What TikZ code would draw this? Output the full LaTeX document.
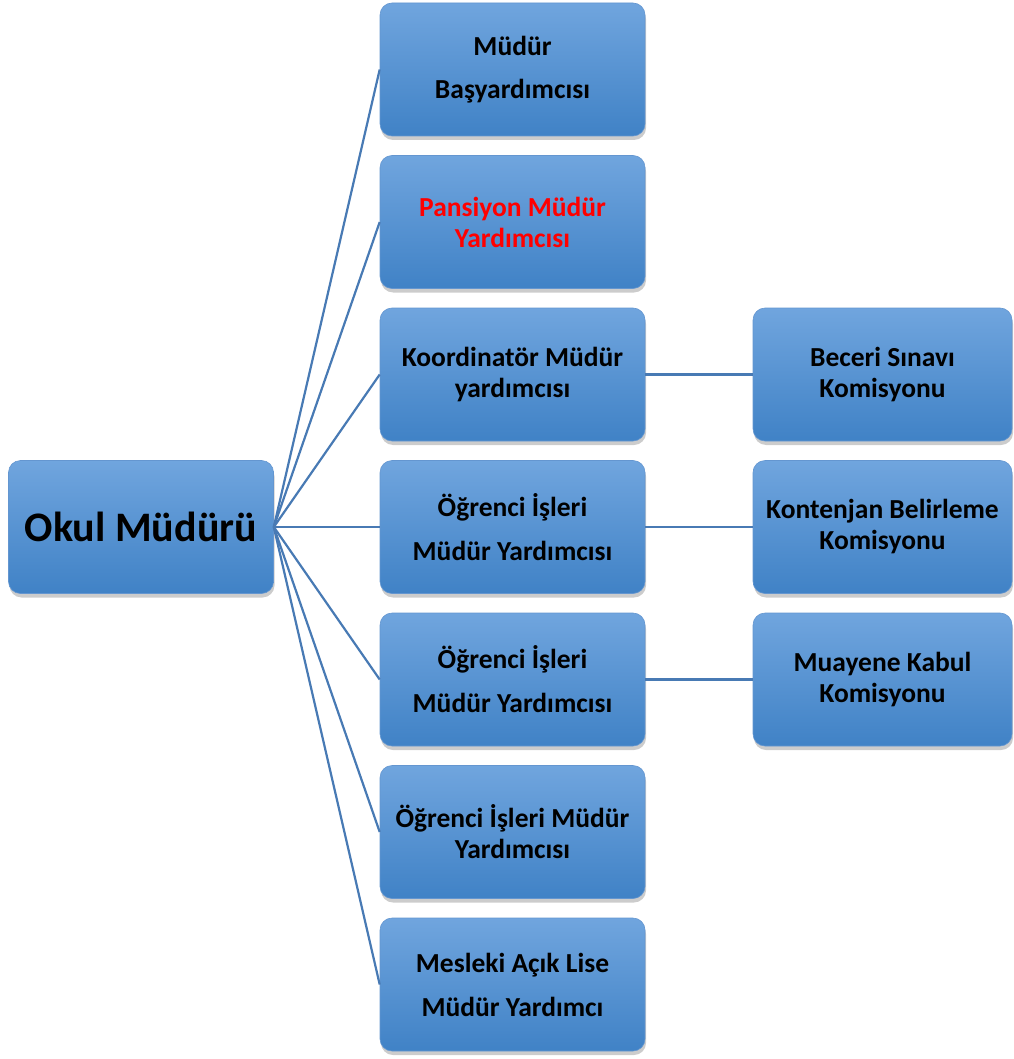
\documentclass[tikz,border=0pt]{standalone}
\usepackage{fontspec}
\setmainfont{Carlito}
\usetikzlibrary{positioning,shadows}

\definecolor{boxtop}{RGB}{112,165,222}
\definecolor{boxmid}{RGB}{86,152,216}
\definecolor{boxbottom}{RGB}{64,130,198}
\definecolor{boxline}{RGB}{100,150,208}
\definecolor{linkblue}{RGB}{72,122,180}

\tikzset{
  unit/.style={rectangle, rounded corners=12pt, minimum width=265pt, minimum height=133pt,
    top color=boxtop, middle color=boxmid, bottom color=boxbottom, draw=boxline, line width=0.6pt,
    align=center, font=\bfseries\fontsize{27.5}{31}\selectfont,
    drop shadow={shadow xshift=1pt, shadow yshift=-4pt, opacity=0.4}},
  commission/.style={unit, minimum width=259pt},
  head/.style={unit, font=\bfseries\fontsize{42}{46}\selectfont},
  link/.style={draw=linkblue, line width=2.2pt}
}

\begin{document}
\begin{tikzpicture}[x=1pt,y=1pt,node distance=152.5pt,on grid]
\useasboundingbox (0,0) rectangle (1013,-1059);

\node[head] (okul) at (141,-527) {Okul Müdürü};

\node[unit] (ogr1) [right=371.5pt of okul] {Öğrenci İşleri\\[13pt]Müdür Yardımcısı};
\node[unit] (koord) [above=of ogr1] {Koordinatör Müdür\\yardımcısı};
\node[unit] (pans) [above=of koord] {\textcolor{red}{Pansiyon Müdür}\\\textcolor{red}{Yardımcısı}};
\node[unit] (bas) [above=of pans] {Müdür\\[12pt]Başyardımcısı};
\node[unit] (ogr2) [below=of ogr1] {Öğrenci İşleri\\[13pt]Müdür Yardımcısı};
\node[unit] (ogr3) [below=of ogr2] {Öğrenci İşleri Müdür\\Yardımcısı};
\node[unit] (acik) [below=of ogr3] {Mesleki Açık Lise\\[13pt]Müdür Yardımcı};

\node[commission] (beceri) [right=370pt of koord] {Beceri Sınavı\\Komisyonu};
\node[commission] (kont) [right=370pt of ogr1] {Kontenjan Belirleme\\Komisyonu};
\node[commission] (muay) [right=370pt of ogr2] {Muayene Kabul\\Komisyonu};

% okul mudurunden yardimcilara
\foreach \n in {bas,pans,koord,ogr1,ogr2,ogr3,acik}
  \draw[link] (okul.east) -- (\n.west);

% komisyonlar
\draw[link] (koord) -- (beceri);
\draw[link] (ogr1) -- (kont);
\draw[link] (ogr2) -- (muay);
\end{tikzpicture}
\end{document}
